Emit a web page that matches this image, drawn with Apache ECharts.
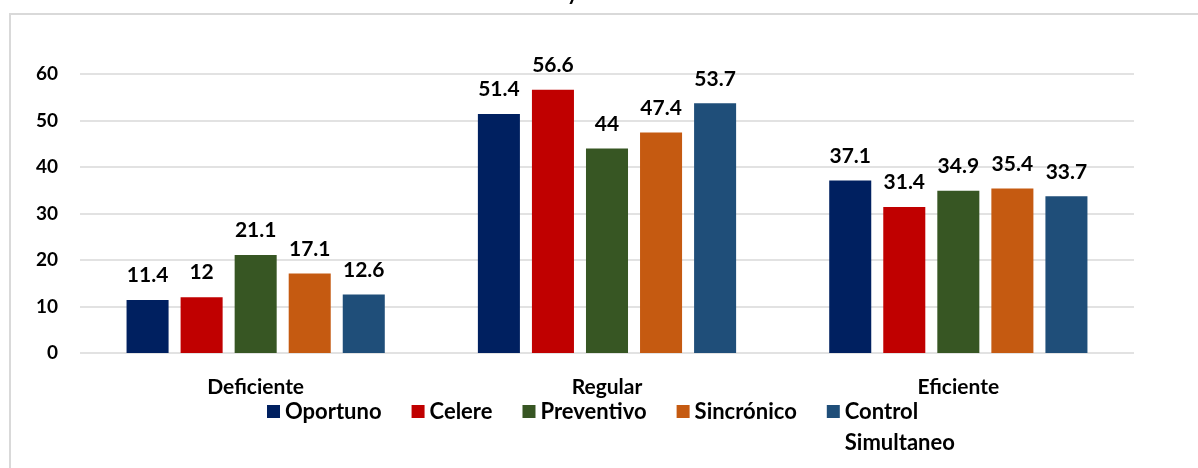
<!DOCTYPE html>
<html>
<head>
<meta charset="utf-8">
<script src="https://cdn.jsdelivr.net/npm/echarts@6/dist/echarts.min.js"></script>
<style>
  html, body { margin: 0; padding: 0; background: #fff; }
  #chart { width: 1198px; height: 468px; }
</style>
</head>
<body>
<div id="chart"></div>
<script>
const categories = ['Deficiente', 'Regular', 'Eficiente'];
const seriesNames = ['Oportuno', 'Celere', 'Preventivo', 'Sincrónico', 'Control Simultaneo'];
const oportuno = [11.4, 51.4, 37.1];
const celere = [12, 56.6, 31.4];
const preventivo = [21.1, 44, 34.9];
const sincronico = [17.1, 47.4, 35.4];
const controlSimultaneo = [12.6, 53.7, 33.7];
const yTicks = [0, 10, 20, 30, 40, 50, 60];

const seriesValues = [oportuno, celere, preventivo, sincronico, controlSimultaneo];
const colors = ['#002060', '#C00000', '#375623', '#C55A11', '#1F4E79'];
const FONT = 'Lato';

const chart = echarts.init(document.getElementById('chart'), null, { renderer: 'canvas' });

const option = {
  animation: false,
  backgroundColor: '#ffffff',
  textStyle: { fontFamily: FONT },
  graphic: [
    {
      type: 'rect',
      shape: { x: 10, y: 14, width: 1400, height: 600 },
      style: { fill: 'none', stroke: '#d9d9d9', lineWidth: 2 },
      silent: true
    },
    {
      type: 'text',
      x: 567, y: -17,
      style: { text: 'y', fontFamily: FONT, fontWeight: 'bold', fontSize: 21, fill: '#000' },
      silent: true
    }
  ],
  grid: { left: 80, right: 64, top: 74, bottom: 115, containLabel: false },
  legend: {
    left: 267,
    top: 365,
    padding: 0,
    orient: 'horizontal',
    icon: 'rect',
    itemWidth: 13,
    itemHeight: 13,
    itemGap: 30,
    textStyle: { fontFamily: FONT, fontWeight: 'bold', fontSize: 22, color: '#000', lineHeight: 31 },
    data: seriesNames,
    formatter: function (n) { return n === 'Control Simultaneo' ? '\nControl\nSimultaneo' : n; }
  },
  xAxis: {
    type: 'category',
    data: categories,
    axisLine: { show: false },
    axisTick: { show: false },
    axisLabel: { fontFamily: FONT, fontWeight: 'bold', fontSize: 21, color: '#000', margin: 24 }
  },
  yAxis: {
    type: 'value',
    min: yTicks[0],
    max: yTicks[yTicks.length - 1],
    interval: 10,
    axisLine: { show: false },
    axisTick: { show: false },
    axisLabel: { fontFamily: FONT, fontWeight: 'bold', fontSize: 19, color: '#000', margin: 22 },
    splitLine: { lineStyle: { color: '#d9d9d9', width: 1.5 } }
  },
  series: seriesNames.map(function (name, i) {
    return {
      name: name,
      type: 'bar',
      data: seriesValues[i],
      barGap: '28.6%',
      barCategoryGap: '26.5%',
      itemStyle: { color: colors[i] },
      label: {
        show: true,
        position: 'top',
        distance: 14,
        fontFamily: FONT,
        fontWeight: 'bold',
        fontSize: 21,
        color: '#000'
      }
    };
  })
};

chart.setOption(option);
</script>
</body>
</html>
